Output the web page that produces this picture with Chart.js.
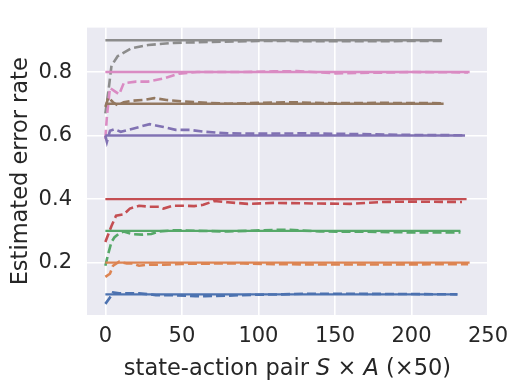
<!DOCTYPE html>
<html>
<head>
<meta charset="utf-8">
<script src="https://cdn.jsdelivr.net/npm/chart.js@4"></script>
<style>
  html, body { margin: 0; padding: 0; background: #fff; }
  #wrap { width: 519px; height: 392px; }
</style>
</head>
<body>
<div id="wrap"><canvas id="chart" width="519" height="392"></canvas></div>
<script>
// true error rate of each series and where its run ends (x, in units of 50 pairs)
const trueRates = [0.1, 0.2, 0.3, 0.4, 0.6, 0.7, 0.8, 0.9];
const runEnds = [230, 238, 232, 236, 235, 221, 238, 220];
const colors = ['#4c72b0', '#dd8452', '#55a868', '#c44e52', '#8172b3', '#937860', '#da8bc3', '#8c8c8c'];

// estimated error rate over time, [x, y]
const estBlue = [[0,0.07],[3,0.09],[5,0.106],[9,0.103],[15,0.103],[22,0.103],[29,0.1],[33,0.097],[46,0.097],[59,0.094],[65,0.094],[80,0.096],[100,0.099],[116,0.1],[130,0.102],[150,0.102],[200,0.101],[230,0.1]];
const estOrange = [[0,0.155],[3,0.165],[5,0.19],[9,0.203],[14,0.197],[18,0.197],[22,0.19],[29,0.194],[38,0.193],[50,0.196],[70,0.197],[90,0.197],[110,0.195],[140,0.194],[180,0.194],[237,0.195]];
const estGreen = [[0,0.19],[2,0.23],[4,0.265],[6,0.28],[9,0.292],[12,0.298],[17,0.29],[24,0.288],[30,0.29],[35,0.298],[45,0.302],[60,0.3],[80,0.298],[110,0.303],[120,0.303],[140,0.298],[170,0.297],[200,0.295],[232,0.295]];
const estRed = [[0,0.265],[4,0.315],[7,0.348],[12,0.352],[16,0.37],[22,0.379],[29,0.376],[35,0.376],[38,0.37],[44,0.379],[51,0.379],[58,0.378],[64,0.382],[71,0.394],[80,0.39],[93,0.385],[110,0.388],[140,0.386],[160,0.385],[181,0.391],[200,0.392],[233,0.391]];
const estPurple = [[0,0.6],[1,0.58],[3,0.615],[6,0.62],[10,0.612],[15,0.618],[22,0.627],[29,0.636],[33,0.632],[38,0.627],[46,0.618],[55,0.618],[65,0.612],[80,0.607],[100,0.606],[130,0.607],[160,0.605],[200,0.602],[234,0.601]];
const estBrown = [[0,0.69],[2,0.72],[5,0.705],[8,0.695],[12,0.705],[18,0.71],[25,0.712],[32,0.718],[40,0.712],[50,0.708],[60,0.705],[80,0.7],[100,0.703],[120,0.705],[150,0.702],[180,0.703],[220,0.702]];
const estPink = [[0,0.59],[1,0.66],[3,0.75],[6,0.74],[9,0.73],[12,0.765],[20,0.77],[28,0.77],[38,0.78],[48,0.795],[60,0.8],[90,0.8],[110,0.802],[125,0.803],[150,0.796],[165,0.797],[200,0.8],[237,0.799]];
const estGray = [[0,0.67],[2,0.74],[4,0.82],[8,0.85],[17,0.875],[28,0.885],[45,0.892],[70,0.895],[100,0.898],[150,0.897],[220,0.898]];
const estimates = [estBlue, estOrange, estGreen, estRed, estPurple, estBrown, estPink, estGray];

const xTicks = [0, 50, 100, 150, 200, 250];
const yTicks = [0.2, 0.4, 0.6, 0.8];

const FONT = "'DejaVu Sans', sans-serif";
const TEXT = '#262626';

const datasets = [];
trueRates.forEach((r, i) => {
    datasets.push({
        data: [{ x: 0, y: r }, { x: runEnds[i], y: r }],
        borderColor: colors[i],
        borderWidth: 2.4,
        pointRadius: 0
    });
    datasets.push({
        data: estimates[i].map(p => ({ x: p[0], y: p[1] })),
        borderColor: colors[i],
        borderWidth: 2.6,
        borderDash: [9, 4],
        pointRadius: 0
    });
});

// plot background and axis titles (x title has italic S and A)
const decor = {
    id: 'decor',
    beforeDraw(chart) {
        const { ctx, chartArea: a } = chart;
        ctx.save();
        ctx.fillStyle = '#eaeaf2';
        ctx.fillRect(a.left, a.top, a.right - a.left, a.bottom - a.top);
        ctx.restore();
    },
    afterDraw(chart) {
        const { ctx, chartArea: a } = chart;
        ctx.save();
        ctx.fillStyle = TEXT;
        ctx.textBaseline = 'alphabetic';
        const parts = [
            ['state-action pair ', 'normal'],
            ['S', 'italic'],
            [' \u00d7 ', 'normal'],
            ['A', 'italic'],
            [' (\u00d750)', 'normal']
        ];
        let total = 0;
        parts.forEach(p => { ctx.font = p[1] + ' 22.5px ' + FONT; total += ctx.measureText(p[0]).width; });
        let x = (a.left + a.right) / 2 - total / 2;
        parts.forEach(p => {
            ctx.font = p[1] + ' 22.5px ' + FONT;
            ctx.fillText(p[0], x, 375);
            x += ctx.measureText(p[0]).width;
        });
        ctx.translate(27, (a.top + a.bottom) / 2);
        ctx.rotate(-Math.PI / 2);
        ctx.textAlign = 'center';
        ctx.font = '22.5px ' + FONT;
        ctx.fillText('Estimated error rate', 0, 0);
        ctx.restore();
    }
};

new Chart(document.getElementById('chart'), {
    type: 'line',
    data: { datasets },
    plugins: [decor],
    options: {
        responsive: false,
        animation: false,
        layout: { padding: { top: 17, right: 31, left: 0, bottom: 0 } },
        plugins: { legend: { display: false }, tooltip: { enabled: false } },
        scales: {
            x: {
                type: 'linear',
                min: -12,
                max: 250,
                afterBuildTicks: s => { s.ticks = xTicks.map(v => ({ value: v })); },
                afterFit: s => { s.height = 77; },
                border: { display: false },
                grid: { color: '#ffffff', lineWidth: 1.6, drawTicks: false },
                ticks: { color: TEXT, font: { family: FONT, size: 21 }, padding: 9, maxRotation: 0 }
            },
            y: {
                type: 'linear',
                min: 0.035,
                max: 0.94,
                afterBuildTicks: s => { s.ticks = yTicks.map(v => ({ value: v })); },
                afterFit: s => { s.width = 87; },
                border: { display: false },
                grid: { color: '#ffffff', lineWidth: 1.6, drawTicks: false },
                ticks: { color: TEXT, font: { family: FONT, size: 21 }, padding: 15, callback: v => v.toFixed(1) }
            }
        }
    }
});
</script>
</body>
</html>
